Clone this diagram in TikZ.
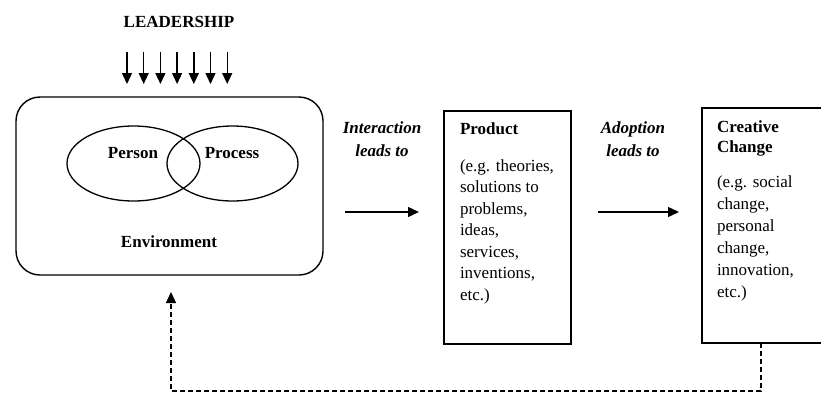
\documentclass[tikz,border=0pt]{standalone}
\usepackage{fontspec}
\setmainfont{Liberation Serif}
\usetikzlibrary{arrows.meta,shapes.geometric}
\begin{document}
\begin{tikzpicture}[x=1pt,y=-1pt,
  line width=1.2pt,
  every node/.style={inner sep=0pt, outer sep=0pt, font=\fontsize{17}{21.5}\selectfont},
  boxstyle/.style={draw, line width=1.6pt, rectangle},
  bodytext/.style={align=left, anchor=west},
  solidarrow/.style={-{Triangle[length=11pt,width=10pt]}, line width=1.4pt},
  dasharrow/.style={-{Triangle[length=11pt,width=10pt,sep=0pt]}, line width=1.3pt, dash pattern=on 5pt off 3pt},
  bolditalic/.style={align=center, font=\fontsize{17}{23}\selectfont\bfseries\itshape}
]
\clip (0,0) rectangle (821,394);
\fill[white] (0,0) rectangle (821,394);

% Leadership
\node[font=\fontsize{17}{21.5}\selectfont\bfseries] (lead) at (179,22) {LEADERSHIP};
\foreach \i in {0,...,6}{
  \coordinate (ls\i) at ({127+16.7*\i},52);
  \coordinate (le\i) at ({127+16.7*\i},84);
  \draw[-{Triangle[length=11pt,width=10pt]}, line width=1.4pt] (ls\i) -- (le\i);
}

% Environment box
\node[draw, line width=1.4pt, rounded corners=24pt, minimum width=307pt, minimum height=178pt] (env) at (169.5,186) {};
\node[draw, ellipse, line width=1.3pt, minimum width=133pt, minimum height=75pt] (pers) at (133.5,163.5) {};
\node[draw, ellipse, line width=1.3pt, minimum width=131pt, minimum height=75pt] (proc) at (232.5,163.5) {};
\node[font=\fontsize{17}{21.5}\selectfont\bfseries] (perst) at (133,153) {Person};
\node[font=\fontsize{17}{21.5}\selectfont\bfseries] (proct) at (232,153) {Process};
\node[font=\fontsize{17}{21.5}\selectfont\bfseries] (envt) at (169,242) {Environment};

% Interaction
\node[bolditalic] (inter) at (382,139.5) {Interaction\\leads to};
\coordinate (a1s) at (345,212);
\coordinate (a1e) at (419,212);
\draw[solidarrow] (a1s) -- (a1e);

% Product box
\node[boxstyle, minimum width=127pt, minimum height=233pt] (prod) at (507.5,227.5) {};
\node[font=\fontsize{17}{21.5}\selectfont\bfseries, anchor=west] (prodt) at (460,129) {Product};
\node[bodytext] (prodb) at (460,231.5) {(e.g. theories,\\solutions to\\problems,\\ideas,\\services,\\inventions,\\etc.)};

% Adoption
\node[bolditalic] (adopt) at (633,139.5) {Adoption\\leads to};
\coordinate (a2s) at (598,212);
\coordinate (a2e) at (679,212);
\draw[solidarrow] (a2s) -- (a2e);

% Creative change box
\node[boxstyle, minimum width=140pt, minimum height=235pt] (crea) at (772,225.5) {};
\node[font=\fontsize{17}{20}\selectfont\bfseries, align=left, anchor=west] (creat) at (717,138) {Creative\\Change};
\node[bodytext, font=\fontsize{17}{22}\selectfont] (creab) at (717,238.5) {(e.g. social\\change,\\personal\\change,\\innovation,\\etc.)};

% Feedback dashed
\coordinate (fb1) at (761,391);
\coordinate (fb2) at (171,391);
\coordinate (fb3) at (171,292);
\draw[dasharrow] (crea.south -| fb1) -- (fb1) -- (fb2) -- (fb3);
\end{tikzpicture}
\end{document}
